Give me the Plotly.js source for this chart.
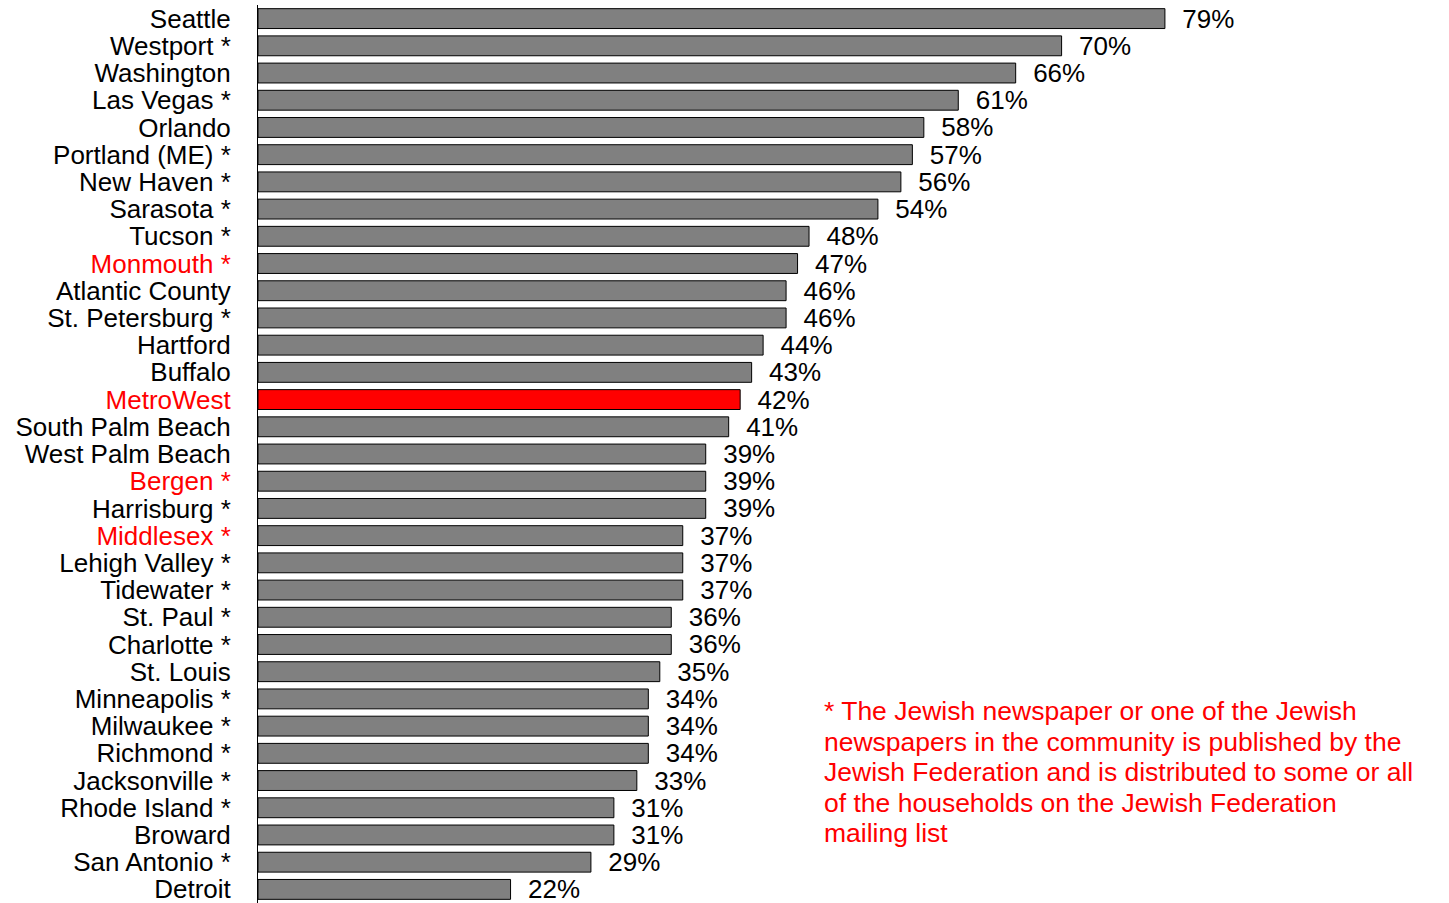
<!DOCTYPE html>
<html>
<head>
<meta charset="utf-8">
<script src="https://cdn.plot.ly/plotly-3.0.1.min.js"></script>
<style>html,body{margin:0;padding:0;background:#fff;}#chart{width:1449px;height:903px;}</style>
</head>
<body>
<div id="chart"></div>
<script>
const categories = ["Seattle","Westport *","Washington","Las Vegas *","Orlando","Portland (ME) *","New Haven *","Sarasota *","Tucson *","Monmouth *","Atlantic County","St. Petersburg *","Hartford","Buffalo","MetroWest","South Palm Beach","West Palm Beach","Bergen *","Harrisburg *","Middlesex *","Lehigh Valley *","Tidewater *","St. Paul *","Charlotte *","St. Louis","Minneapolis *","Milwaukee *","Richmond *","Jacksonville *","Rhode Island *","Broward","San Antonio *","Detroit"];
const values = [79,70,66,61,58,57,56,54,48,47,46,46,44,43,42,41,39,39,39,37,37,37,36,36,35,34,34,34,33,31,31,29,22];
const redLabels = ["Monmouth *","MetroWest","Bergen *","Middlesex *"];
const highlightBar = "MetroWest";
const footnoteLines = [
  "* The Jewish newspaper or one of the Jewish",
  "newspapers in the community is published by the",
  "Jewish Federation and is distributed to some or all",
  "of the households on the Jewish Federation",
  "mailing list"
];

const FONT = 'Liberation Sans, Arial, sans-serif';
const ticktext = categories.map(c => redLabels.includes(c) ? '<span style="color:#ff0000">' + c + '</span>' : c);
const barColors = categories.map(c => c === highlightBar ? '#ff0000' : '#808080');

const trace = {
  type: 'bar',
  orientation: 'h',
  y: categories,
  x: values,
  marker: {color: barColors, line: {color: '#000000', width: 1}},
  text: values.map(v => '\u00a0\u00a0' + v + '%'),
  textposition: 'outside',
  textfont: {family: FONT, size: 26, color: '#000'},
  constraintext: 'none',
  cliponaxis: false,
  hoverinfo: 'none'
};

// footnote line positions (pixel centres in the page), converted to paper coords
const H = 903, T = 5, B = 0;
const plotH = H - T - B;
const footY = [711, 741.5, 772, 802.5, 833];
const annotations = footnoteLines.map((line, i) => ({
  xref: 'paper', yref: 'paper',
  x: (822 - 258) / 1148, y: (H - B - footY[i]) / plotH,
  xanchor: 'left', yanchor: 'middle',
  align: 'left',
  showarrow: false,
  text: line,
  font: {family: FONT, size: 26.5, color: '#ff0000'}
}));

const layout = {
  width: 1449, height: H,
  margin: {l: 258, r: 43, t: T, b: B, pad: 0},
  paper_bgcolor: '#fff', plot_bgcolor: '#fff',
  bargap: 0.27,
  showlegend: false,
  font: {family: FONT, size: 26, color: '#000'},
  xaxis: {range: [0, 100], visible: false, fixedrange: true},
  yaxis: {
    type: 'category',
    autorange: 'reversed',
    tickvals: categories,
    ticktext: ticktext,
    showline: true, linecolor: '#000', linewidth: 1,
    showgrid: false, zeroline: false,
    ticks: '',
    ticklabelstandoff: 21,
    tickfont: {family: FONT, size: 26, color: '#000'}
  },
  annotations: annotations
};

Plotly.newPlot('chart', [trace], layout, {staticPlot: true, displayModeBar: false});
</script>
</body>
</html>
